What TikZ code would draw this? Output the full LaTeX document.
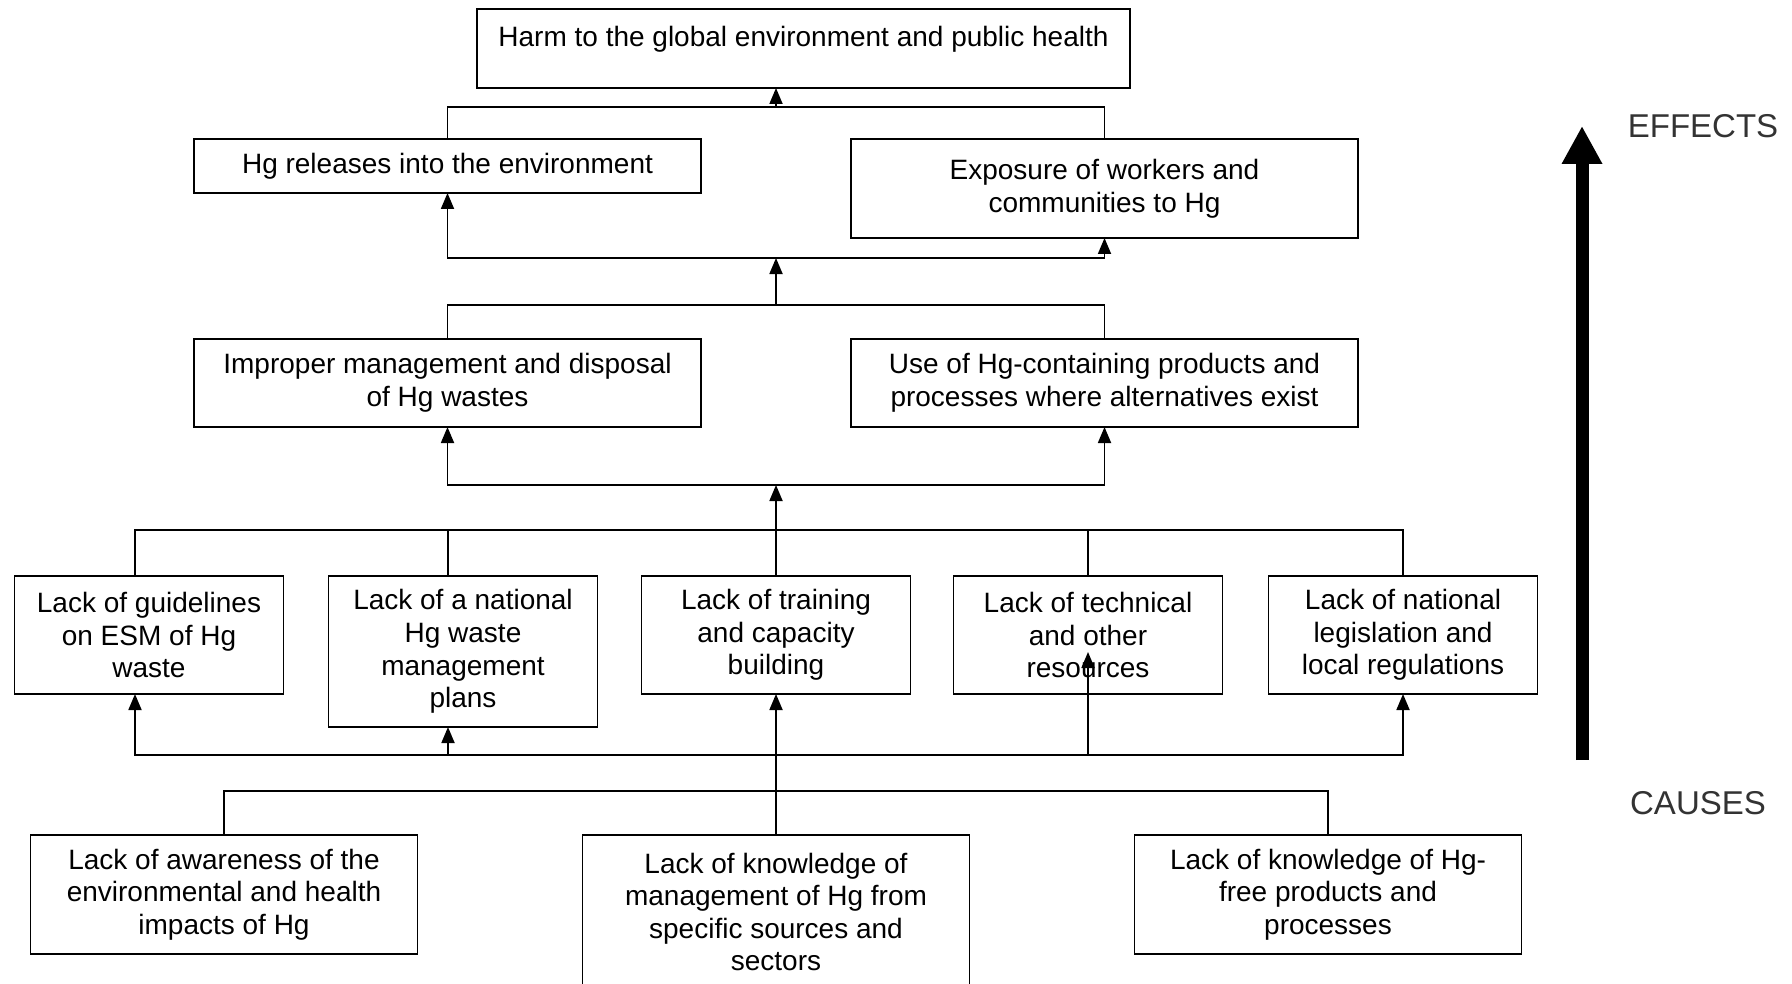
\documentclass[tikz,border=0pt]{standalone}
\usepackage{fontspec}
\setmainfont{Liberation Sans}
\usepackage{tikz}
\usetikzlibrary{arrows.meta, positioning, calc}

\begin{document}
\begin{tikzpicture}[
    box/.style={rectangle, draw, line width=0.9pt, inner xsep=4pt, inner ysep=2pt, outer sep=0pt, align=center, font=\fontsize{14pt}{16.3pt}\selectfont},
    effectbox/.style={box, minimum width=253.5pt},
    cause/.style={box, minimum width=134.5pt, minimum height=59pt},
    rootbox/.style={box, minimum width=193.5pt, minimum height=59.5pt},
    link/.style={line width=0.9pt},
    arrow/.style={line width=0.9pt, -{Triangle[length=8pt, width=6.5pt]}},
    bigarrow/.style={line width=6.5pt, -{Triangle[length=19pt, width=19pt]}},
    sidetext/.style={font=\fontsize{16.5pt}{18pt}\selectfont, text=black!80}
]
    \useasboundingbox (0,0) rectangle (896pt,-492pt);

    % Top effect
    \node[box, minimum width=326.5pt, inner ysep=0pt, text height=19pt, text depth=20.5pt] (harm) at (401.75pt,-24.25pt) {Harm to the global environment and public health};

    % Direct effects
    \node[effectbox, minimum height=27pt, below=25.5pt of harm, xshift=-178pt] (hg) {Hg releases into the environment};
    \node[effectbox, minimum height=49.5pt, below=25.5pt of harm, xshift=150.5pt] (expo) {Exposure of workers and\\ communities to Hg};

    % Core problems
    \node[effectbox, minimum height=44pt, below=73pt of hg] (impr) {Improper management and disposal\\ of Hg wastes};
    \node[effectbox, minimum height=44pt, below=50.5pt of expo] (use) {Use of Hg-containing products and\\ processes where alternatives exist};

    \coordinate (jD) at ($(impr.south)!0.5!(use.south)+(0,-29pt)$);

    % Causes
    \node[cause, below=45.5pt of jD] (g3) {Lack of training\\ and capacity\\ building};
    \node[cause, minimum height=75.5pt, anchor=north east] (g2) at ([xshift=-22pt]g3.north west) {Lack of a national\\ Hg waste\\ management\\ plans};
    \node[cause, anchor=north east] (g1) at ([xshift=-22.5pt]g2.north west) {Lack of guidelines\\ on ESM of Hg\\ waste};
    \node[cause, anchor=north west] (g4) at ([xshift=21.5pt]g3.north east) {Lack of technical\\ and other\\ resources};
    \node[cause, anchor=north west] (g5) at ([xshift=23pt]g4.north east) {Lack of national\\ legislation and\\ local regulations};

    % Root causes
    \node[rootbox, minimum height=77pt, below=70.5pt of g3] (b2) {Lack of knowledge of\\ management of Hg from\\ specific sources and\\ sectors};
    \node[rootbox, anchor=north east] (b1) at ([xshift=-82.5pt]b2.north west) {Lack of awareness of the\\ environmental and health\\ impacts of Hg};
    \node[rootbox, anchor=north west] (b3) at ([xshift=82.5pt]b2.north east) {Lack of knowledge of Hg-\\ free products and\\ processes};

    % Junctions
    \coordinate (jA) at ($(hg.north)!0.5!(expo.north)+(0,16pt)$);
    \coordinate (jC) at ($(impr.north)!0.5!(use.north)+(0,17pt)$);
    \coordinate (jB) at ($(jC)+(0,23.5pt)$);
    \coordinate (jE) at ([yshift=23pt]g3.north);
    \coordinate (jG) at ([yshift=22pt]b2.north);
    \coordinate (jF) at ($(jG)+(0,18pt)$);

    % Connectors
    \draw[link] (hg.north) |- (jA) -| (expo.north);
    \draw[arrow] (jA) -- (jA |- harm.south);

    \draw[link] (impr.north) |- (jC) -| (use.north);
    \draw[arrow] (jC) -- (jB);
    \draw[arrow] (jB) -| (hg.south);
    \draw[arrow] (jB) -| (expo.south);

    \draw[link] ([xshift=-7pt]g1.north) |- (jE) -| (g5.north);
    \draw[link] ([xshift=-7.5pt]g2.north) |- (jE);
    \draw[link] (g3.north) -- (jE);
    \draw[link] (g4.north) |- (jE);
    \draw[arrow] (jE) -- (jD);
    \draw[arrow] (jD) -| (impr.south);
    \draw[arrow] (jD) -| (use.south);

    \draw[link] (b1.north) |- (jG) -| (b3.north);
    \draw[arrow] (b2.north) -- (g3.south);
    \draw[arrow] (jF) -| ([xshift=-7pt]g1.south);
    \draw[arrow] (jF) -| ([xshift=-7.5pt]g2.south);
    \draw[arrow] (jF) -| ([yshift=21pt]g4.south);
    \draw[arrow] (jF) -| (g5.south);

    % Direction of causality
    \node[sidetext] (effects) at (851.5pt,-63pt) {EFFECTS};
    \node[sidetext] (causes) at (849pt,-401.5pt) {CAUSES};
    \draw[bigarrow] ([shift={(-58pt,21.5pt)}]causes.center) -- ([xshift=-60.5pt]effects.center);
\end{tikzpicture}
\end{document}
